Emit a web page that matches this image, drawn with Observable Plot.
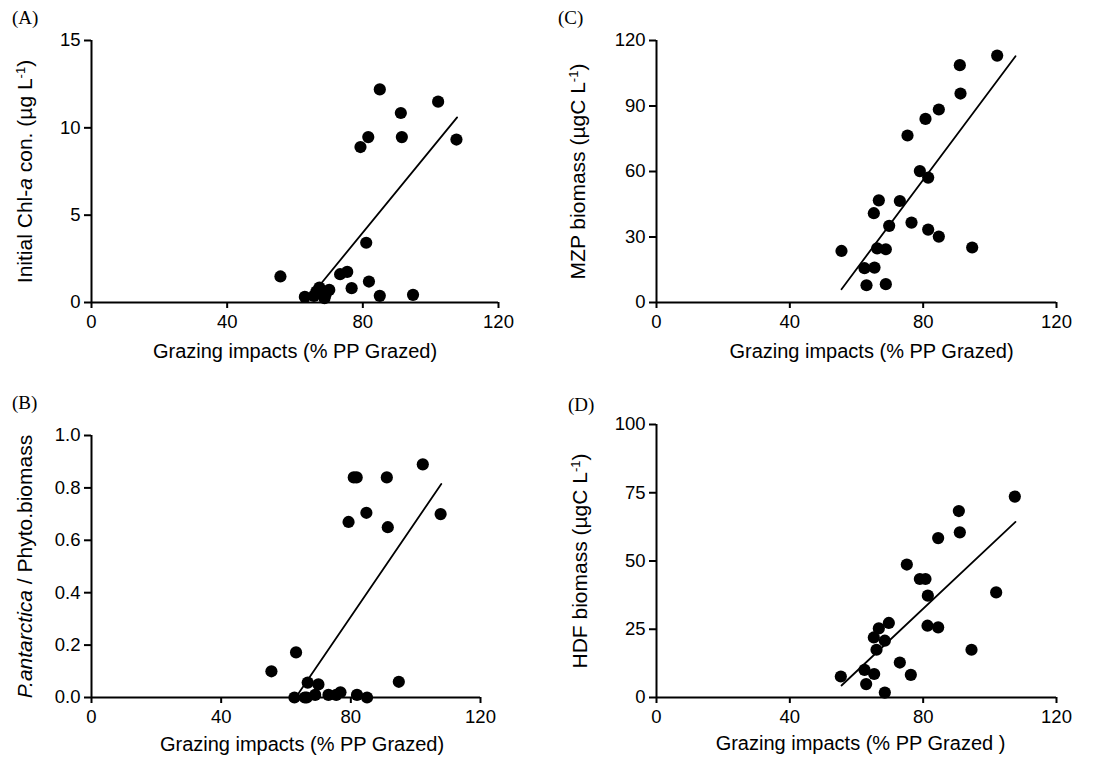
<!DOCTYPE html>
<html><head><meta charset="utf-8">
<script src="https://cdn.jsdelivr.net/npm/d3@7"></script>
<script src="https://cdn.jsdelivr.net/npm/@observablehq/plot@0.6"></script>
<style>
body{margin:0;background:#fff;}
#fig{position:relative;width:1096px;height:772px;overflow:hidden;}
.panel{position:absolute;}
.plabel{position:absolute;font-family:"Liberation Serif","Times New Roman",serif;font-size:19px;color:#000;line-height:1;}
</style></head><body><div id="fig"></div>
<script>
// ---- data ----
const xTicks = [0, 40, 80, 120];
const xLabel = "Grazing impacts (% PP Grazed)";
const xLabelD = "Grazing impacts (% PP Grazed )";

// (A) Initial Chl-a
const aGrazing = [55.7,62.9,65.6,66.3,67.2,68.7,69.0,70.1,73.3,75.4,76.7,79.3,81.0,81.6,81.8,85.0,85.0,91.2,91.5,94.8,102.2,107.6];
const aChl     = [1.49,0.32,0.38,0.62,0.85,0.25,0.45,0.72,1.62,1.75,0.82,8.9,3.42,9.47,1.2,12.2,0.38,10.85,9.47,0.44,11.5,9.33];
const aFitX = [64.8, 107.8];
const aFitY = [0.4, 10.6];
const aTicks = [0, 5, 10, 15];

// (C) MZP biomass
const cGrazing = [102.2,91.0,91.2,84.7,80.7,75.3,79.0,81.5,73.0,66.7,65.2,69.8,76.5,81.5,84.7,94.7,55.5,66.2,68.8,62.4,65.4,63.0,68.8];
const cMZP     = [113.1,108.7,95.7,88.4,84.1,76.5,60.2,57.2,46.5,46.8,40.9,35.1,36.6,33.4,30.2,25.2,23.6,24.8,24.4,15.7,16.0,7.9,8.4];
const cFitX = [55.5, 107.7];
const cFitY = [6.1, 112.8];
const cTicks = [0, 30, 60, 90, 120];

// (B) P.antarctica / Phyto biomass
const bGrazing = [55.5,62.6,63.1,65.8,66.4,66.7,69.0,70.0,73.1,75.5,76.8,79.3,80.9,81.8,81.9,84.8,85.0,91.1,91.4,94.8,102.2,107.7];
const bRatio   = [0.10,0.0,0.172,0.0,0.0,0.057,0.01,0.05,0.01,0.01,0.02,0.67,0.84,0.84,0.01,0.705,0.0,0.84,0.65,0.06,0.89,0.70];
const bFitX = [63.0, 107.9];
const bFitY = [0.0, 0.815];
const bTicks = [0, 0.2, 0.4, 0.6, 0.8, 1.0];

// (D) HDF biomass
const dGrazing = [107.5,90.7,91.0,84.5,75.1,79.0,80.7,81.4,101.9,69.7,66.7,65.2,68.5,66.0,81.3,84.5,94.5,73.0,62.4,65.3,76.3,55.3,62.9,68.5];
const dHDF     = [73.6,68.3,60.5,58.4,48.7,43.4,43.4,37.3,38.5,27.3,25.3,22.0,20.8,17.5,26.3,25.7,17.5,12.8,10.1,8.6,8.3,7.7,4.9,1.8];
const dFitX = [55.5, 107.7];
const dFitY = [4.4, 64.3];
const dTicks = [0, 25, 50, 75, 100];

// ---- drawing ----
const fig = document.getElementById("fig");
const SANS = '"Liberation Sans", Arial, Helvetica, sans-serif';

function panel(cfg) {
  const pts = cfg.x.map((x, i) => ({x, y: cfg.y[i]}));
  const fit = cfg.fx.map((x, i) => ({x, y: cfg.fy[i]}));
  const svg = Plot.plot({
    width: 548, height: 386,
    marginLeft: cfg.ml, marginRight: cfg.mr, marginTop: cfg.mt, marginBottom: cfg.mb,
    style: {fontFamily: SANS, fontSize: "18px", color: "#000", background: "transparent", overflow: "visible"},
    x: {domain: [0, 120]},
    y: {domain: cfg.yDomain},
    marks: [
      Plot.ruleX([0], {stroke: "#000", strokeWidth: 2}),
      Plot.ruleY([0], {stroke: "#000", strokeWidth: 2}),
      Plot.axisX({ticks: xTicks, tickSize: 6, tickPadding: 6, strokeWidth: 2,
        label: cfg.xlabel, labelAnchor: "center", labelOffset: cfg.xlo, labelArrow: "none"}),
      Plot.axisY({ticks: cfg.yTicks, tickFormat: cfg.fmt, tickSize: 7, tickPadding: 4, strokeWidth: 2,
        label: "Y", labelAnchor: "center", labelOffset: cfg.ylo, labelArrow: "none"}),
      Plot.line(fit, {x: "x", y: "y", stroke: "#000", strokeWidth: 1.8}),
      Plot.dot(pts, {x: "x", y: "y", r: 6.1, fill: "#000", stroke: "none"})
    ]
  });
  const s = d3.select(svg);
  s.selectAll('g[aria-label="x-axis tick label"] text, g[aria-label="y-axis tick label"] text')
    .style("font-size", "18.5px");
  s.selectAll('g[aria-label="y-axis label"] text').html(cfg.yhtml).style("font-size", "21px");
  s.selectAll('g[aria-label="x-axis label"] text').style("font-size", "20px").attr("dx", cfg.xdx);
  const wrap = document.createElement("div");
  wrap.className = "panel";
  wrap.style.left = cfg.left + "px";
  wrap.style.top = cfg.top + "px";
  wrap.appendChild(svg);
  fig.appendChild(wrap);
  const lab = document.createElement("div");
  lab.className = "plabel";
  lab.textContent = cfg.tag;
  lab.style.left = (cfg.left + cfg.tagX) + "px";
  lab.style.top = (cfg.top + cfg.tagY) + "px";
  fig.appendChild(lab);
}

const sup = '<tspan baseline-shift="super" font-size="0.62em">-1</tspan>';

panel({tag: "(A)", tagX: 12, tagY: 8, left: 0, top: 0, x: aGrazing, y: aChl, fx: aFitX, fy: aFitY,
  yDomain: [0, 15], yTicks: aTicks, fmt: d3.format("d"), ml: 91, mr: 50, mt: 40, mb: 84, xlo: 55, ylo: 74, xdx: 0,
  xlabel: xLabel,
  yhtml: 'Initial Chl-<tspan font-style="italic">a</tspan> con. (µg L' + sup + ')'});

panel({tag: "(C)", tagX: 10, tagY: 8, left: 548, top: 0, x: cGrazing, y: cMZP, fx: cFitX, fy: cFitY,
  yDomain: [0, 120], yTicks: cTicks, fmt: d3.format("d"), ml: 108, mr: 40, mt: 40, mb: 84, xlo: 55, ylo: 86, xdx: 15,
  xlabel: xLabel,
  yhtml: 'MZP biomass (µgC L' + sup + ')'});

panel({tag: "(B)", tagX: 12, tagY: 7, left: 0, top: 386, x: bGrazing, y: bRatio, fx: bFitX, fy: bFitY,
  yDomain: [0, 1], yTicks: bTicks, fmt: d3.format(".1f"), ml: 91, mr: 68, mt: 49, mb: 75, xlo: 53, ylo: 74, xdx: 16,
  xlabel: xLabel,
  yhtml: '<tspan font-style="italic">P.antarctica</tspan> / Phyto.biomass'});

panel({tag: "(D)", tagX: 20, tagY: 9, left: 548, top: 386, x: dGrazing, y: dHDF, fx: dFitX, fy: dFitY,
  yDomain: [0, 100], yTicks: dTicks, fmt: d3.format("d"), ml: 108, mr: 40, mt: 38, mb: 75, xlo: 52, ylo: 84, xdx: 4,
  xlabel: xLabelD,
  yhtml: 'HDF biomass (µgC L' + sup + ')'});
</script></body></html>
